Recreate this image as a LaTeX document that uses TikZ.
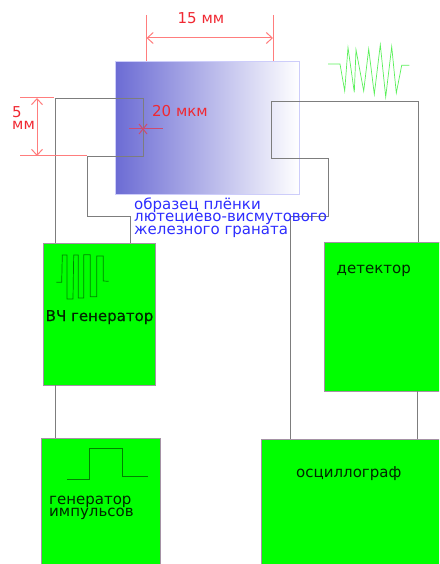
\documentclass[tikz,border=0pt]{standalone}
\usepackage{fontspec}
\setmainfont{DejaVu Sans}
\newfontfamily\fakebold[FakeBold=0.35]{DejaVu Sans}
\usetikzlibrary{arrows.meta}
\definecolor{wirec}{RGB}{125,125,125}
\definecolor{boxedge}{RGB}{165,145,165}
\definecolor{dimc}{RGB}{255,125,125}
\definecolor{dimt}{RGB}{240,40,50}
\definecolor{crossc}{RGB}{205,75,110}
\definecolor{capt}{RGB}{45,45,255}
\definecolor{wavec}{RGB}{0,130,0}
\definecolor{samplec}{RGB}{108,108,212}
\tikzset{
  blockbox/.style={draw=boxedge,fill={rgb,255:red,0;green,255;blue,0},line width=0.9pt,inner sep=0pt,anchor=north west},
  wire/.style={draw=wirec,line width=0.9pt,line join=miter},
  dimline/.style={draw=dimc,line width=1pt},
  crossline/.style={draw=crossc,line width=1pt},
  dimarrow/.style={dimline,{Straight Barb[length=6pt,width=11pt]}-{Straight Barb[length=6pt,width=11pt]}},
  dimlabel/.style={text=dimt,font=\fontsize{15}{12}\selectfont,inner sep=0pt,anchor=base west},
  caption/.style={text=capt,font=\fontsize{15}{12.4}\selectfont,inner sep=0pt,anchor=base west},
  blacklabel/.style={text=black!85!green,font=\fontsize{15}{12.4}\selectfont,inner sep=0pt,anchor=base west},
  wave/.style={draw=wavec,line width=0.7pt},
  rfwave/.style={draw={rgb,255:red,90;green,240;blue,90},line width=0.7pt}
}
\begin{document}
\begin{tikzpicture}[x=1pt,y=-1pt]
\useasboundingbox (0,0) rectangle (439,564);
\clip (0,0) rectangle (439,564);
% sample
\node[draw={rgb,255:red,205;green,205;blue,250},line width=0.9pt,inner sep=0pt,minimum width=183.5pt,minimum height=133pt,anchor=north west,left color=samplec,right color=white] (sample) at (115,61) {};
% blocks
\node[blockbox,minimum width=112pt,minimum height=142pt] (vch) at (43,243) {};
\node[blockbox,minimum width=119pt,minimum height=140pt] (pulse) at (41,438) {};
\node[blockbox,minimum width=130pt,minimum height=149pt] (det) at (324,242) {};
\node[blockbox,minimum width=178pt,minimum height=140pt] (osc) at (261,439) {};
% wire way points
\coordinate (a1) at (55,243);
\coordinate (a2) at (55,98);
\coordinate (a3) at (143,98);
\coordinate (a4) at (143,156);
\coordinate (a5) at (87,156);
\coordinate (a6) at (87,216);
\coordinate (a7) at (130,216);
\coordinate (a8) at (130,243);
\coordinate (b1) at (418,242);
\coordinate (b2) at (418,101);
\coordinate (b3) at (271,101);
\coordinate (b4) at (271,158);
\coordinate (b5) at (328.5,158);
\coordinate (b6) at (328.5,216);
\coordinate (b7) at (290.5,216);
\coordinate (b8) at (290.5,439);
\draw[wire] (a1) -- (a2) -- (a3) -- (a4) -- (a5) -- (a6) -- (a7) -- (a8);
\draw[wire] (b1) -- (b2) -- (b3) -- (b4) -- (b5) -- (b6) -- (b7) -- (b8);
\draw[wire] (55,385) coordinate (c1) -- (55,438) coordinate (c2);
\draw[wire] (417,391) coordinate (d1) -- (417,439) coordinate (d2);
% dimensions
\coordinate (e1) at (146.5,15);
\coordinate (e2) at (146.5,61);
\coordinate (e3) at (273,15);
\coordinate (e4) at (273,61);
\coordinate (e5) at (146.5,38);
\coordinate (e6) at (273,38);
\draw[dimline] (e1) -- (e2);
\draw[dimline] (e3) -- (e4);
\draw[dimarrow] (e5) -- (e6);
\coordinate (f1) at (20,98);
\coordinate (f2) at (54,98);
\coordinate (f3) at (20,156);
\coordinate (f4) at (87,156);
\coordinate (f5) at (37,98);
\coordinate (f6) at (37,156);
\draw[dimline] (f1) -- (f2);
\draw[dimline] (f3) -- (f4);
\draw[dimarrow] (f5) -- (f6);
\draw[crossline] (129,129) -- (163,129);
\draw[crossline] (139,124) -- (147,134);
\draw[crossline] (147,124) -- (139,134);
\node[dimlabel] (l15) at (177.5,24) {15 мм};
\node[dimlabel] (l5a) at (12,118) {5};
\node[dimlabel] (l5b) at (12,130) {мм};
\node[dimlabel] (l20) at (152,117) {20 мкм};
% caption
\node[caption] (cap1) at (134,209.5) {образец плёнки};
\node[caption] (cap2) at (134,221.5) {лютециево-висмутового};
\node[caption] (cap3) at (134,234) {железного граната};
% block labels
\node[blacklabel,font=\fontsize{15}{14}\fakebold] (lvch) at (45.5,321) {ВЧ генератор};
\node[blacklabel] (lp1) at (49,504) {генератор};
\node[blacklabel] (lp2) at (49,516) {импульсов};
\node[blacklabel] (ldet) at (336.5,273) {детектор};
\node[blacklabel] (losc) at (296,477) {осциллограф};
% waveforms
\draw[wave] (56.3,282.3) -- (61.7,282.3) -- (62.3,255) -- (67,255) -- (67,299) -- (73,299) -- (73.7,255) -- (78.3,255) -- (78.3,298) -- (83.7,298) -- (83.7,254.7) -- (90.3,254.7) -- (90.3,296.7) -- (96.7,296.7) -- (96.7,256) -- (103.3,256) -- (103.3,281) -- (108.7,281.3);
\draw[wave] (67,479) -- (89.7,479) -- (89.7,448.3) -- (122.7,448.3) -- (122.7,476.7) -- (148.3,476.7);
\draw[rfwave] (328,64) -- (340,64) -- (344.7,91) -- (348,47.7) -- (354.3,92.3) -- (356,49.7) -- (363.7,91) -- (368.7,49) -- (374.3,94.3) -- (380.3,44.7) -- (385.7,97) -- (391.7,46.7) -- (396.3,93) -- (401.7,65.3) -- (409.3,65.3);
\end{tikzpicture}
\end{document}
